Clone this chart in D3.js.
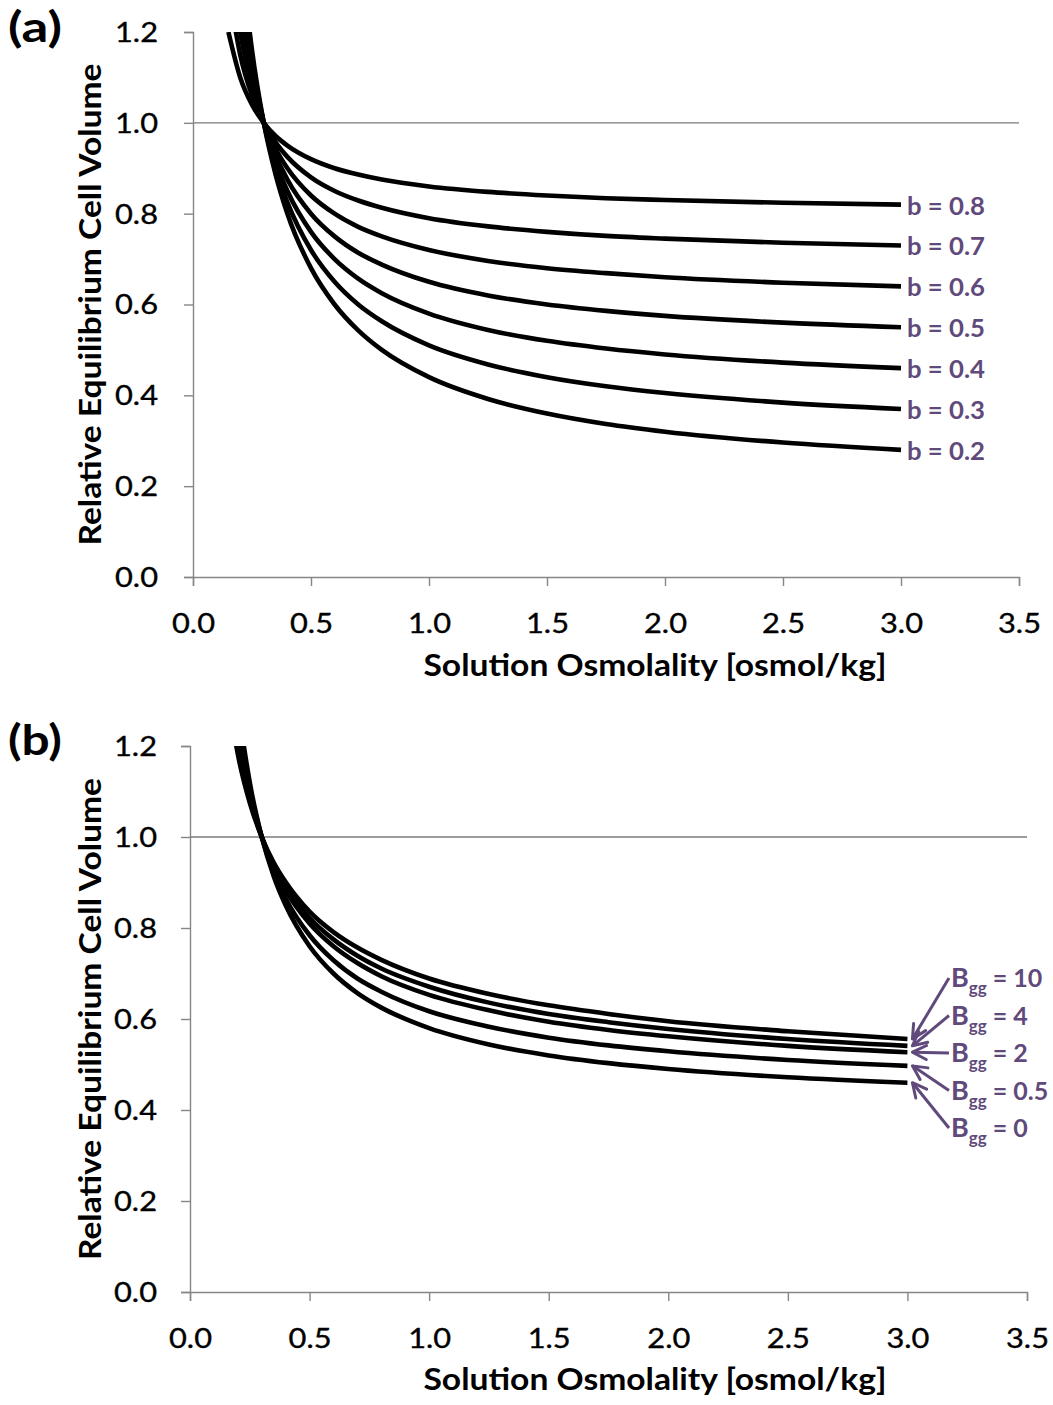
<!DOCTYPE html>
<html>
<head>
<meta charset="utf-8">
<script src="https://cdn.jsdelivr.net/npm/d3@7"></script>
<style>
  html, body { margin: 0; padding: 0; background: #ffffff; }
  svg { display: block; }
  text { font-family: Lato, "Open Sans", "Liberation Sans", sans-serif; }
</style>
</head>
<body>
<svg id="chart" width="1053" height="1405"></svg>
<script>
// Solution osmolality sample points [osmol/kg]
const osmolality = [0.15, 0.2, 0.25, 0.3, 0.35, 0.4, 0.5, 0.6, 0.7, 0.8, 1.0, 1.25, 1.5, 1.75, 2.0, 2.5, 3.0];

// Panel (a): relative equilibrium volume for different osmotically inactive fractions b
const bLabels = ["b = 0.8", "b = 0.7", "b = 0.6", "b = 0.5", "b = 0.4", "b = 0.3", "b = 0.2"];
const volB08 = [1.200, 1.100, 1.040, 1.000, 0.971, 0.950, 0.920, 0.900, 0.886, 0.875, 0.860, 0.848, 0.840, 0.834, 0.830, 0.824, 0.820];
const volB07 = [1.300, 1.150, 1.060, 1.000, 0.957, 0.925, 0.880, 0.850, 0.829, 0.813, 0.790, 0.772, 0.760, 0.751, 0.745, 0.736, 0.730];
const volB06 = [1.400, 1.200, 1.080, 1.000, 0.943, 0.900, 0.840, 0.800, 0.771, 0.750, 0.720, 0.696, 0.680, 0.669, 0.660, 0.648, 0.640];
const volB05 = [1.500, 1.250, 1.100, 1.000, 0.929, 0.875, 0.800, 0.750, 0.714, 0.688, 0.650, 0.620, 0.600, 0.586, 0.575, 0.560, 0.550];
const volB04 = [1.600, 1.300, 1.120, 1.000, 0.914, 0.850, 0.760, 0.700, 0.657, 0.625, 0.580, 0.544, 0.520, 0.503, 0.490, 0.472, 0.460];
const volB03 = [1.700, 1.350, 1.140, 1.000, 0.900, 0.825, 0.720, 0.650, 0.600, 0.563, 0.510, 0.468, 0.440, 0.420, 0.405, 0.384, 0.370];
const volB02 = [1.800, 1.400, 1.160, 1.000, 0.886, 0.800, 0.680, 0.600, 0.543, 0.500, 0.440, 0.392, 0.360, 0.337, 0.320, 0.296, 0.280];

// Panel (b): relative equilibrium volume for different second osmotic virial coefficients
const bggValues = ["10", "4", "2", "0.5", "0"];
const volBgg10 = [1.350, 1.182, 1.075, 1.000, 0.944, 0.901, 0.836, 0.791, 0.757, 0.730, 0.689, 0.655, 0.630, 0.611, 0.595, 0.573, 0.556];
const volBgg4  = [1.401, 1.205, 1.084, 1.000, 0.939, 0.891, 0.822, 0.775, 0.739, 0.711, 0.671, 0.636, 0.611, 0.593, 0.578, 0.556, 0.541];
const volBgg2  = [1.448, 1.227, 1.092, 1.000, 0.933, 0.883, 0.810, 0.760, 0.723, 0.694, 0.653, 0.619, 0.594, 0.576, 0.562, 0.541, 0.527];
const volBgg05 = [1.534, 1.268, 1.107, 1.000, 0.923, 0.865, 0.784, 0.729, 0.689, 0.660, 0.617, 0.583, 0.559, 0.542, 0.529, 0.510, 0.497];
const volBgg0  = [1.600, 1.300, 1.120, 1.000, 0.914, 0.850, 0.760, 0.700, 0.657, 0.625, 0.580, 0.544, 0.520, 0.503, 0.490, 0.472, 0.460];

// Axis ticks
const xTicks = [0, 0.5, 1.0, 1.5, 2.0, 2.5, 3.0, 3.5];
const yTicks = [0, 0.2, 0.4, 0.6, 0.8, 1.0, 1.2];

const xTitle = "Solution Osmolality [osmol/kg]";
const yTitle = "Relative Equilibrium Cell Volume";

const AXIS_GREY = "#868686";
const LABEL_PURPLE = "#604a7b";

const svg = d3.select("#chart");
svg.append("rect").attr("width", 1053).attr("height", 1405).attr("fill", "#ffffff");

const defs = svg.append("defs");
defs.append("marker")
  .attr("id", "arrowhead")
  .attr("viewBox", "0 0 18 18")
  .attr("refX", 16).attr("refY", 9)
  .attr("markerWidth", 18).attr("markerHeight", 18)
  .attr("markerUnits", "userSpaceOnUse")
  .attr("orient", "auto")
  .append("path")
  .attr("d", "M2,2 L16,9 L2,16")
  .attr("fill", "none")
  .attr("stroke", LABEL_PURPLE)
  .attr("stroke-width", 3)
  .attr("stroke-linecap", "round")
  .attr("stroke-linejoin", "round");

function drawPanel(opts) {
  const { id, left, right, top, bottom, letter, letterY, series, yLabelRight, titleCenterY } = opts;
  const x = d3.scaleLinear().domain([0, 3.5]).range([left, right]);
  const y = d3.scaleLinear().domain([0, 1.2]).range([bottom, top]);
  const g = svg.append("g");

  defs.append("clipPath").attr("id", "clip-" + id)
    .append("rect")
    .attr("x", left).attr("y", top)
    .attr("width", right - left + 20).attr("height", bottom - top);

  // x axis
  const xAxis = d3.axisBottom(x).tickValues(xTicks).tickSize(9).tickFormat(d3.format(".1f"));
  const gx = g.append("g").attr("transform", `translate(0,${bottom})`).call(xAxis);
  gx.select(".domain").attr("stroke", AXIS_GREY).attr("stroke-width", 1.4);
  gx.selectAll(".tick line").attr("stroke", AXIS_GREY).attr("stroke-width", 1.4);
  gx.selectAll(".tick text")
    .attr("fill", "#000").attr("font-size", 27).attr("y", 0).attr("dy", null)
    .attr("textLength", 43).attr("lengthAdjust", "spacingAndGlyphs")
    .attr("stroke", "#000").attr("stroke-width", 0.35)
    .attr("transform", "translate(0,56)");

  // y axis
  const yAxis = d3.axisLeft(y).tickValues(yTicks).tickSize(9).tickFormat(d3.format(".1f"));
  const gy = g.append("g").attr("transform", `translate(${left},0)`).call(yAxis);
  gy.select(".domain").attr("stroke", AXIS_GREY).attr("stroke-width", 1.4);
  gy.selectAll(".tick line").attr("stroke", AXIS_GREY).attr("stroke-width", 1.4);
  gy.selectAll(".tick text")
    .attr("fill", "#000").attr("font-size", 27)
    .attr("textLength", 43).attr("lengthAdjust", "spacingAndGlyphs")
    .attr("stroke", "#000").attr("stroke-width", 0.35)
    .attr("x", yLabelRight - left).attr("dy", "0.35em");

  // reference line at relative volume 1.0
  g.append("line")
    .attr("x1", left).attr("x2", right)
    .attr("y1", y(1.0)).attr("y2", y(1.0))
    .attr("stroke", "#7a7a7a").attr("stroke-width", 1.4);

  // curves
  const line = d3.line()
    .x((d, i) => x(osmolality[i]))
    .y(d => y(d))
    .curve(d3.curveMonotoneX);
  g.append("g").attr("clip-path", `url(#clip-${id})`)
    .selectAll("path").data(series).join("path")
    .attr("d", s => line(s.values))
    .attr("fill", "none")
    .attr("stroke", "#000")
    .attr("stroke-width", 4.6)
    .attr("stroke-linejoin", "round");

  // axis titles
  g.append("text")
    .attr("x", 655).attr("y", titleCenterY)
    .attr("text-anchor", "middle").attr("dominant-baseline", "central")
    .attr("font-size", 30).attr("font-weight", 700).attr("fill", "#000")
    .attr("textLength", 463).attr("lengthAdjust", "spacingAndGlyphs")
    .text(xTitle);
  g.append("text")
    .attr("transform", `translate(89,${(top + bottom) / 2}) rotate(-90)`)
    .attr("text-anchor", "middle").attr("dominant-baseline", "central")
    .attr("font-size", 30).attr("font-weight", 700).attr("fill", "#000")
    .attr("textLength", 482).attr("lengthAdjust", "spacingAndGlyphs")
    .text(yTitle);

  // panel letter
  g.append("text")
    .attr("x", 8).attr("y", letterY)
    .attr("font-size", 42).attr("font-weight", 700).attr("fill", "#000")
    .attr("textLength", 54).attr("lengthAdjust", "spacingAndGlyphs")
    .text(letter);

  return { x, y, g };
}

// ---- Panel (a) ----
const seriesA = [volB08, volB07, volB06, volB05, volB04, volB03, volB02]
  .map((v, i) => ({ label: bLabels[i], values: v }));
const pa = drawPanel({
  id: "a", left: 193, right: 1019, top: 32, bottom: 577,
  letter: "(a)", letterY: 42, series: seriesA, yLabelRight: 158, titleCenterY: 664
});
pa.g.append("g").selectAll("text").data(seriesA).join("text")
  .attr("x", pa.x(3.0) + 6)
  .attr("y", s => pa.y(s.values[s.values.length - 1]))
  .attr("dominant-baseline", "central")
  .attr("font-size", 25).attr("font-weight", 700).attr("fill", LABEL_PURPLE)
  .attr("textLength", 78).attr("lengthAdjust", "spacingAndGlyphs")
  .text(s => s.label);

// ---- Panel (b) ----
const seriesB = [volBgg10, volBgg4, volBgg2, volBgg05, volBgg0]
  .map((v, i) => ({ label: bggValues[i], values: v }));
const pb = drawPanel({
  id: "b", left: 190, right: 1027, top: 746, bottom: 1292,
  letter: "(b)", letterY: 755, series: seriesB, yLabelRight: 157, titleCenterY: 1378
});

// annotation labels with arrows pointing at the curve ends
const labelX = 951, labelTop = 978, labelStep = 37.5;
const ann = pb.g.append("g");
seriesB.forEach((s, i) => {
  const ly = labelTop + i * labelStep;
  const tipX = pb.x(3.0) + 5;
  const tipY = pb.y(s.values[s.values.length - 1]);
  ann.append("line")
    .attr("x1", labelX - 2).attr("y1", ly)
    .attr("x2", tipX).attr("y2", tipY)
    .attr("stroke", LABEL_PURPLE).attr("stroke-width", 3)
    .attr("marker-end", "url(#arrowhead)");
  const t = ann.append("text")
    .attr("x", labelX).attr("y", ly + 9)
    .attr("font-size", 25).attr("font-weight", 700).attr("fill", LABEL_PURPLE);
  t.append("tspan").attr("font-size", 27).text("B");
  t.append("tspan").attr("font-size", 17).attr("dy", 7).text("gg");
  t.append("tspan").attr("dy", -7).text(" = " + s.label);
});
</script>
</body>
</html>
